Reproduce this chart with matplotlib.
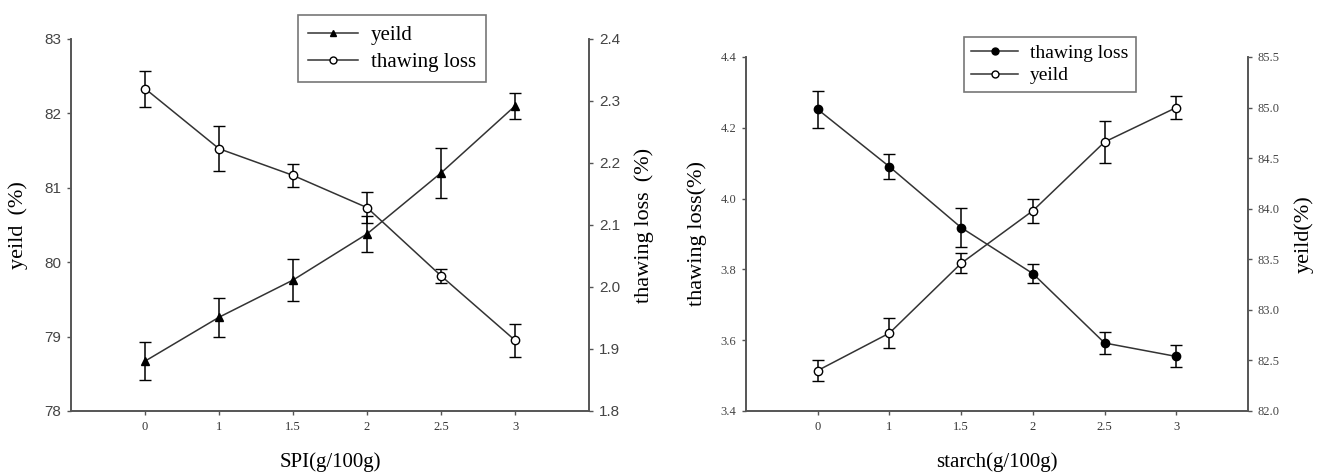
import matplotlib
matplotlib.use("Agg")
from matplotlib import pyplot as plt
from matplotlib.lines import Line2D

# dosage levels, drawn at evenly spaced positions
levels = ["0", "1", "1.5", "2", "2.5", "3"]

# SPI series
spi_yield = [78.67, 79.26, 79.76, 80.38, 81.20, 82.10]
spi_yield_err = [0.26, 0.26, 0.28, 0.24, 0.34, 0.17]
spi_thaw = [2.320, 2.223, 2.180, 2.128, 2.018, 1.914]
spi_thaw_err = [0.029, 0.036, 0.018, 0.025, 0.011, 0.027]

# starch series
st_thaw = [4.252, 4.090, 3.918, 3.788, 3.592, 3.554]
st_thaw_err = [0.053, 0.035, 0.054, 0.026, 0.031, 0.031]
st_yield = [82.40, 82.77, 83.46, 83.98, 84.66, 85.00]
st_yield_err = [0.10, 0.15, 0.10, 0.12, 0.21, 0.11]

plt.rcParams["font.family"] = ["Liberation Serif", "DejaVu Serif"]
LINE = "#333333"
SPINE = "#555555"
TICKFONT = ["Liberation Sans Narrow", "Liberation Sans", "DejaVu Sans"]

fig = plt.figure(figsize=(13.3, 4.76), dpi=100)
ax1 = fig.add_axes([0.0534, 0.1366, 0.3895, 0.7815])
ax3 = fig.add_axes([0.5609, 0.1366, 0.3775, 0.7437])
xs = list(range(len(levels)))


def style(ax, twin):
    ax.set_xlim(-1, 6)
    ax.set_xticks(xs)
    ax.set_xticklabels(levels, fontsize=9, family="Liberation Serif", color="#333")
    ax.spines["top"].set_visible(False)
    twin.spines["top"].set_visible(False)
    for a in (ax, twin):
        for s in a.spines.values():
            s.set_color(SPINE)
            s.set_linewidth(1.2)
        a.tick_params(direction="out", length=3, width=1, color=SPINE, pad=4)


def series(ax, y, err, marker, face):
    ax.errorbar(xs, y, yerr=err, color=LINE, lw=1.1, marker=marker, ms=6,
                mfc=face, mec="black", mew=1, ecolor="black", elinewidth=1.1,
                capsize=4, capthick=1.1)
    return Line2D([], [], color=LINE, lw=1.1, marker=marker, ms=5,
                  mfc=face, mec="black", mew=1)


def legend(ax, handles, labels, anchor, size, pad, spacing):
    leg = ax.legend(handles, labels, loc="upper center", bbox_to_anchor=anchor,
                    fontsize=size, frameon=True, fancybox=False, edgecolor="#555",
                    handlelength=2.4, borderpad=pad, labelspacing=spacing,
                    handletextpad=0.6)
    leg.get_frame().set_linewidth(1.2)


# SPI panel
ax2 = ax1.twinx()
style(ax1, ax2)
h1 = series(ax1, spi_yield, spi_yield_err, "^", "black")
h2 = series(ax2, spi_thaw, spi_thaw_err, "o", "white")
ax1.set_ylim(78, 83)
ax1.set_yticks([78, 79, 80, 81, 82, 83])
ax2.set_ylim(1.8, 2.4)
ax2.set_yticks([1.8, 1.9, 2.0, 2.1, 2.2, 2.3, 2.4])
ax2.set_yticklabels([f"{v:.1f}" for v in ax2.get_yticks()])
for lab in ax1.get_yticklabels() + ax2.get_yticklabels():
    lab.set_family(TICKFONT)
    lab.set_fontsize(11)
    lab.set_color("#444")
ax1.set_ylabel("yeild\u2009 (%)", fontsize=16, labelpad=12)
ax2.set_ylabel("thawing loss\u2009 (%)", fontsize=16, labelpad=10)
ax1.set_xlabel("SPI(g/100g)", fontsize=15, labelpad=14)
legend(ax1, [h1, h2], ["yeild", "thawing loss"], (0.62, 1.092), 15, 0.5, 0.35)

# starch panel
ax4 = ax3.twinx()
style(ax3, ax4)
h3 = series(ax3, st_thaw, st_thaw_err, "o", "black")
h4 = series(ax4, st_yield, st_yield_err, "o", "white")
ax3.set_ylim(3.4, 4.4)
ax3.set_yticks([3.4, 3.6, 3.8, 4.0, 4.2, 4.4])
ax3.set_yticklabels([f"{v:.1f}" for v in ax3.get_yticks()])
ax4.set_ylim(82.0, 85.5)
ax4.set_yticks([82.0, 82.5, 83.0, 83.5, 84.0, 84.5, 85.0, 85.5])
ax4.set_yticklabels([f"{v:.1f}" for v in ax4.get_yticks()])
for lab in ax3.get_yticklabels() + ax4.get_yticklabels():
    lab.set_family(["Liberation Serif"])
    lab.set_fontsize(9)
    lab.set_color("#444")
ax3.set_ylabel("thawing loss(%)", fontsize=16, labelpad=10)
ax4.set_ylabel("yeild(%)", fontsize=16, labelpad=10)
ax3.set_xlabel("starch(g/100g)", fontsize=15, labelpad=14)
legend(ax3, [h3, h4], ["thawing loss", "yeild"], (0.605, 1.085), 14, 0.4, 0.25)

fig.savefig("out.png", dpi=100)
